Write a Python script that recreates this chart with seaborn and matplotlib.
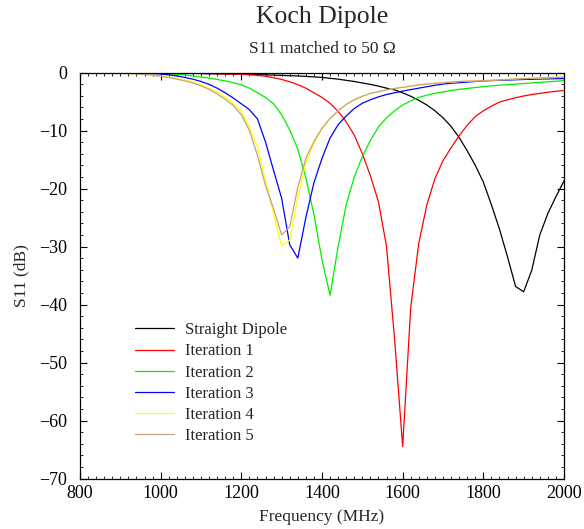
import numpy as np
import pandas as pd
import matplotlib
matplotlib.use("Agg")
import matplotlib.pyplot as plt
import seaborn as sns
from matplotlib.ticker import MultipleLocator

freq = list(range(800, 2001, 20))

straight = [0, 0, 0, 0, -0.02, -0.03, -0.04, -0.05, -0.06, -0.08,
            -0.1, -0.11, -0.12, -0.14, -0.16, -0.18, -0.2, -0.22, -0.24, -0.27,
            -0.3, -0.33, -0.37, -0.4, -0.45, -0.5, -0.55, -0.6, -0.67, -0.75,
            -0.85, -1.0, -1.15, -1.35, -1.55, -1.8, -2.05, -2.35, -2.7, -3.0,
            -3.5, -4.1, -4.8, -5.6, -6.6, -7.8, -9.3, -11.2, -13.5, -16.0,
            -18.9, -22.8, -27.0, -31.8, -36.9, -37.8, -34.1, -28.0, -24.3, -21.4,
            -18.7]

iter1 = [0, 0, 0, 0, 0, -0.02, -0.03, -0.04, -0.05, -0.06,
         -0.08, -0.09, -0.1, -0.12, -0.14, -0.16, -0.18, -0.21, -0.24, -0.27,
         -0.3, -0.38, -0.48, -0.65, -0.9, -1.2, -1.6, -2.1, -2.7, -3.5,
         -4.3, -5.3, -6.7, -8.5, -10.8, -14.0, -17.8, -22.3, -30.0, -46.0,
         -64.5, -40.5, -29.4, -22.8, -18.3, -15.2, -13.0, -10.9, -9.1, -7.6,
         -6.6, -5.8, -5.1, -4.7, -4.35, -4.05, -3.8, -3.6, -3.4, -3.25,
         -3.1]

iter2 = [0, 0, 0, 0, -0.02, -0.03, -0.04, -0.06, -0.08, -0.1,
         -0.15, -0.22, -0.3, -0.42, -0.6, -0.78, -0.98, -1.2, -1.45, -1.75,
         -2.1, -2.7, -3.5, -4.3, -5.4, -7.3, -9.9, -13.2, -18.2, -24.5,
         -32.3, -38.4, -30.0, -22.8, -18.0, -14.5, -11.7, -9.4, -7.8, -6.6,
         -5.6, -4.9, -4.3, -3.9, -3.6, -3.35, -3.1, -2.9, -2.75, -2.6,
         -2.45, -2.3, -2.2, -2.1, -2.0, -1.9, -1.8, -1.7, -1.6, -1.5,
         -1.4]

iter3 = [0, 0, 0, -0.02, -0.04, -0.06, -0.08, -0.1, -0.15, -0.2,
         -0.27, -0.4, -0.6, -0.85, -1.15, -1.55, -2.05, -2.7, -3.5, -4.4,
         -5.4, -6.4, -8.0, -12.0, -16.9, -21.7, -29.7, -32.0, -25.0, -19.0,
         -14.8, -11.3, -9.0, -7.5, -6.2, -5.3, -4.7, -4.2, -3.8, -3.5,
         -3.2, -2.95, -2.7, -2.45, -2.2, -2.0, -1.85, -1.75, -1.65, -1.55,
         -1.45, -1.4, -1.35, -1.3, -1.25, -1.2, -1.17, -1.13, -1.1, -1.07,
         -1.05]

iter4 = [0, -0.02, -0.04, -0.06, -0.08, -0.1, -0.15, -0.2, -0.3, -0.4,
         -0.6, -0.8, -1.05, -1.3, -1.6, -2.1, -2.7, -3.4, -4.3, -5.3,
         -6.8, -9.4, -13.0, -18.5, -24.5, -29.9, -28.9, -21.5, -15.5, -12.2,
         -9.7, -8.0, -6.6, -5.5, -4.7, -4.1, -3.6, -3.3, -3.0, -2.75,
         -2.55, -2.35, -2.15, -2.0, -1.85, -1.75, -1.65, -1.55, -1.5, -1.45,
         -1.4, -1.35, -1.25, -1.2, -1.1, -1.05, -1.0, -0.95, -0.9, -0.85,
         -0.8]

iter5 = [0, -0.02, -0.04, -0.06, -0.09, -0.12, -0.17, -0.23, -0.33, -0.45,
         -0.65, -0.88, -1.15, -1.45, -1.8, -2.3, -2.9, -3.7, -4.6, -5.7,
         -7.3, -10.0, -14.3, -19.5, -23.5, -28.0, -26.6, -19.8, -14.8, -11.9,
         -9.6, -7.9, -6.6, -5.5, -4.7, -4.1, -3.6, -3.3, -3.0, -2.75,
         -2.55, -2.35, -2.15, -2.0, -1.85, -1.75, -1.65, -1.55, -1.5, -1.45,
         -1.4, -1.35, -1.25, -1.2, -1.1, -1.05, -1.0, -0.95, -0.9, -0.85,
         -0.8]

labels = ["Straight Dipole", "Iteration 1", "Iteration 2",
          "Iteration 3", "Iteration 4", "Iteration 5"]
series = [straight, iter1, iter2, iter3, iter4, iter5]
colors = ["#000000", "#ff0000", "#00ee00", "#0000ff", "#ffff00", "#c8a080"]

df = pd.concat([pd.DataFrame({"freq": freq, "s11": s, "series": lab})
                for s, lab in zip(series, labels)], ignore_index=True)

sns.set_style("white")
plt.rcParams["font.family"] = ["Liberation Serif", "DejaVu Serif"]
plt.rcParams["mathtext.fontset"] = "stix"

fig = plt.figure(figsize=(5.84, 5.29), dpi=100)
ax = fig.add_axes([80/584, 1 - 478.5/529, 484/584, 406/529])

sns.lineplot(data=df, x="freq", y="s11", hue="series", hue_order=labels,
             palette=dict(zip(labels, colors)), linewidth=0.9, ax=ax,
             sort=False)

ax.set_xlim(800, 2000)
ax.set_ylim(-70, 0)
ax.xaxis.set_major_locator(MultipleLocator(200))
ax.xaxis.set_minor_locator(MultipleLocator(20))
ax.yaxis.set_major_locator(MultipleLocator(10))
ax.yaxis.set_minor_locator(MultipleLocator(2))
ax.tick_params(which="both", direction="in", top=True, right=True,
               bottom=True, left=True, colors="black", labelsize=13)
ax.tick_params(which="major", length=5, width=0.8)
ax.tick_params(which="minor", length=2.5, width=0.6)
ax.tick_params(axis="x", which="major", pad=5)
ax.tick_params(axis="y", which="major", pad=9)
for sp in ax.spines.values():
    sp.set_color("black")
    sp.set_linewidth(0.9)

ax.set_xlabel("Frequency (MHz)", fontsize=12.5, labelpad=5)
ax.set_ylabel("S11 (dB)", fontsize=12.5, labelpad=7)

fig.text(322/584, 1 - 17/529, "Koch Dipole", ha="center", va="center",
         fontsize=18.5)
fig.text(322/584, 1 - 49/529, "S11 matched to 50 \u03a9", ha="center",
         va="center", fontsize=12.5)

leg = ax.legend(loc="upper left", bbox_to_anchor=(0.114, 0.385), frameon=False,
                fontsize=12, handlelength=2.35, handletextpad=0.65,
                labelspacing=0.31, borderaxespad=0, borderpad=0)
for h in leg.get_lines():
    h.set_linewidth(0.9)

fig.savefig("out.png", dpi=100)
